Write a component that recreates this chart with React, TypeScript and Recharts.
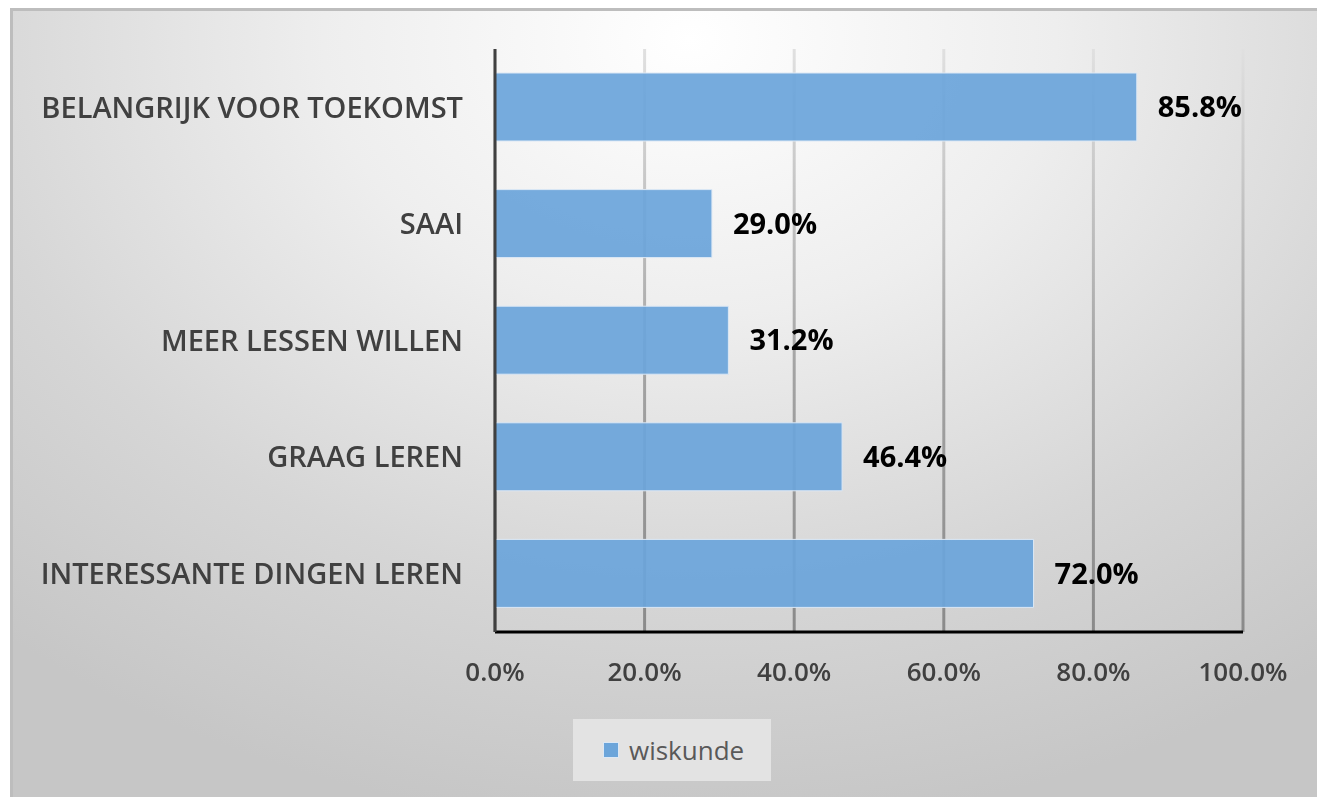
import { Bar, BarChart, CartesianGrid, LabelList, XAxis, YAxis } from 'recharts'

const categories = [
  'BELANGRIJK VOOR TOEKOMST',
  'SAAI',
  'MEER LESSEN WILLEN',
  'GRAAG LEREN',
  'INTERESSANTE DINGEN LEREN',
]
const wiskunde = [85.8, 29.0, 31.2, 46.4, 72.0]
const xTicks = [0, 20, 40, 60, 80, 100]
const seriesName = 'wiskunde'

const BAR_COLOR = '#6ca5da'
const FONT = '"Open Sans", "Liberation Sans", sans-serif'

const data = categories.map((c, i) => ({ name: c, wiskunde: wiskunde[i] }))

const pct = (v: number) => `${v.toFixed(1)}%`

export default function App() {
  return (
    <div
      style={{
        position: 'fixed',
        left: 10,
        top: 8,
        width: 1307,
        height: 789,
        background:
          'radial-gradient(ellipse 80% 100% at 52% 4%, #ffffff 0%, #eeeeee 35%, #d6d6d6 70%, #c6c6c6 100%)',
        boxShadow: 'inset 3px 3px 0 #bdbdbd',
      }}
    >
      <BarChart
        width={1307}
        height={789}
        data={data}
        layout="vertical"
        margin={{ top: 41, right: 74, bottom: 105, left: 0 }}
        barSize={68}
      >
        <defs>
          <linearGradient id="gridGrad" x1="0" y1="41" x2="0" y2="624" gradientUnits="userSpaceOnUse">
            <stop offset="0%" stopColor="#e0e0e0" />
            <stop offset="55%" stopColor="#a3a3a3" />
            <stop offset="100%" stopColor="#8a8a8a" />
          </linearGradient>
        </defs>
        <CartesianGrid horizontal={false} stroke="url(#gridGrad)" strokeWidth={3} />
        <XAxis
          type="number"
          domain={[0, 100]}
          ticks={xTicks}
          tickFormatter={pct}
          tickLine={false}
          axisLine={{ stroke: '#000000', strokeWidth: 3 }}
          tickMargin={25}
          height={60}
          tick={{ fontFamily: FONT, fontSize: 26, fontWeight: 600, fill: '#404040' }}
        />
        <YAxis
          type="category"
          dataKey="name"
          width={485}
          tickLine={false}
          axisLine={{ stroke: '#404040', strokeWidth: 3 }}
          tickMargin={26}
          tick={{ fontFamily: FONT, fontSize: 29, fontWeight: 600, fill: '#404040' }}
        />
        <Bar
          dataKey="wiskunde"
          name={seriesName}
          fill={BAR_COLOR}
          fillOpacity={0.93}
          stroke="#dce8f5"
          strokeWidth={1}
          isAnimationActive={false}
        >
          <LabelList
            dataKey="wiskunde"
            position="right"
            offset={21}
            formatter={(v: number) => pct(v)}
            style={{ fontFamily: FONT, fontSize: 29, fontWeight: 700, fill: '#000000' }}
          />
        </Bar>
      </BarChart>

      {/* legend */}
      <div
        style={{
          position: 'absolute',
          left: 563,
          top: 711,
          width: 198,
          height: 62,
          background: '#e3e3e3',
          display: 'flex',
          alignItems: 'center',
          boxSizing: 'border-box',
          paddingLeft: 30,
          fontFamily: FONT,
          fontSize: 26,
          color: '#595959',
        }}
      >
        <div
          style={{
            width: 16,
            height: 16,
            background: BAR_COLOR,
            border: '1px solid #dce8f5',
            boxSizing: 'border-box',
            marginRight: 10,
          }}
        />
        <span>{seriesName}</span>
      </div>
    </div>
  )
}
